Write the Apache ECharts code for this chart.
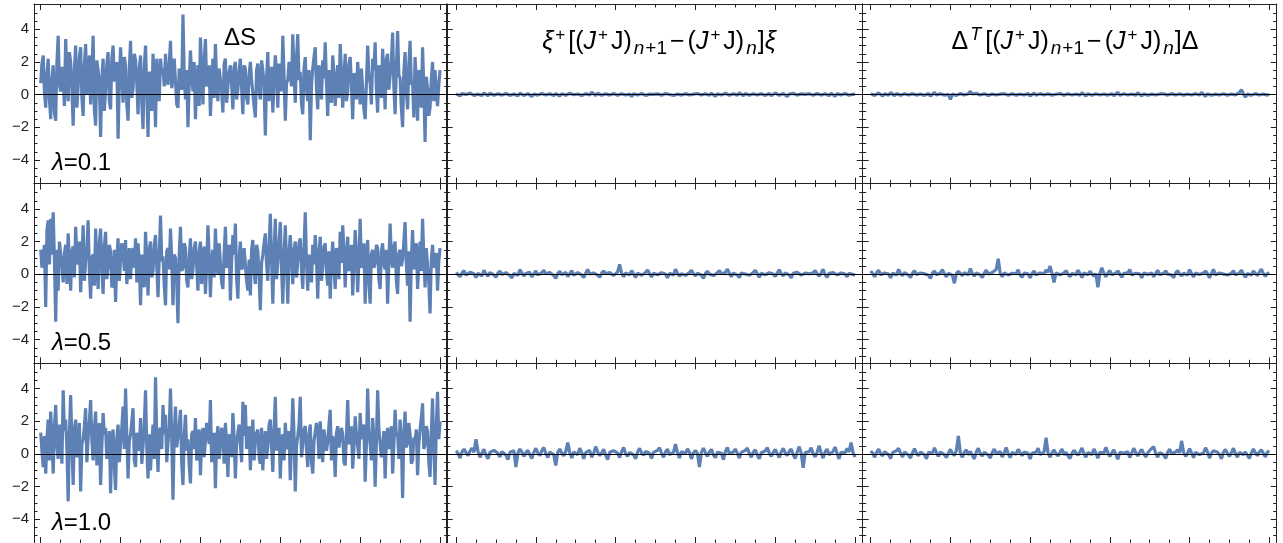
<!DOCTYPE html>
<html>
<head>
<meta charset="utf-8">
<script src="https://cdn.jsdelivr.net/npm/echarts@6/dist/echarts.min.js"></script>
<style>
  html, body { margin: 0; background: #fff; }
  #chart { width: 1283px; height: 543px; }
</style>
</head>
<body>
<div id="chart"></div>
<script>
// tick values (x = iteration, y = change)
const xMajor = [0, 100, 200, 300, 400, 500]
const xMinor = [25, 50, 75, 125, 150, 175, 225, 250, 275, 325, 350, 375, 425, 450, 475]
const yMajor = [-4, -2, 0, 2, 4]
const yMinor = [-5, -4.5, -3.5, -3, -2.5, -1.5, -1, -0.5, 0.5, 1, 1.5, 2.5, 3, 3.5, 4.5, 5]
const lambdaLabels = ['λ=0.1', 'λ=0.5', 'λ=1.0']

// ΔS, one array per λ (samples spread evenly over 0..500)
const dS01 = [
  0.7, 1.9, 2.4, 0.1, -0.8, 1.2, 2.2, -0.3, -1.5, 0.9, 1.8, -1.1, -1.6, 2.0, 3.6, 0.6, 0.2, 1.7, 1.1, -0.7,
  3.4, 1.3, -0.4, 2.6, 2.0, 0.4, -1.9, 1.5, 3.0, -0.8, 0.5, 2.3, 2.9, -0.2, -1.3, 1.8, 3.1, 0.0, 1.0, 2.4,
  -0.6, 1.4, 3.6, -0.9, -1.9, 2.1, 1.5, 0.6, -2.6, 1.0, 2.2, -1.0, 0.3, 1.9, 2.6, -0.4, -0.9, 2.2, 3.0, 0.8,
  1.2, 2.0, -2.7, 0.9, 2.9, 1.1, -0.5, 2.3, 1.8, -0.6, -1.6, 1.5, 3.3, -0.2, 0.4, 2.5, 2.1, 0.7, -1.2, 1.6,
  2.4, -0.5, -2.1, 1.7, 3.0, 0.2, -2.6, 1.4, 1.2, -1.0, 2.5, 0.9, -2.0, 2.2, 0.8, -0.4, 2.2, 1.3, 1.6, 0.5,
  2.5, 1.0, 0.6, 1.9, 3.3, 0.4, 1.0, 2.2, 2.1, -0.6, -0.8, 1.6, 1.7, 0.3, 4.9, 1.2, -0.3, 1.5, -2.0, 0.8,
  2.7, 1.1, 0.2, 2.0, -1.5, 0.9, 1.8, -0.7, 3.5, 1.4, -0.6, 2.1, 3.4, 0.5, 0.9, 1.8, -1.3, 0.6, 2.2, -0.2,
  3.1, 0.8, -0.4, 1.6, 1.7, 0.2, -1.1, 1.9, 2.2, -0.5, 0.5, 1.4, 1.8, 0.6, -0.9, 1.7, 2.0, -0.3, 0.3, 1.5,
  2.2, 0.4, -1.2, 1.8, 1.6, -0.2, -0.6, 1.2, 2.0, 0.9, 0.8, -0.7, -1.4, 1.5, 1.9, 0.3, -0.3, 2.1, 1.5, 0.6,
  -2.5, 1.0, 2.6, -0.4, 0.4, 1.7, -1.1, 0.8, 2.4, 1.2, -0.8, 1.9, 1.3, 0.2, 3.6, 1.1, -1.6, 0.7, 0.9, 2.0,
  2.1, 0.5, 3.7, 1.3, -0.5, 2.2, 3.7, 0.9, 1.4, -0.6, -1.2, 1.6, 2.3, 0.3, -0.4, 1.5, -2.8, 0.6, 1.6, 2.3,
  2.9, 0.4, -0.9, 1.8, 1.2, -0.3, 2.1, 1.0, 3.2, 0.7, -1.3, 1.5, 0.6, -0.5, 2.4, 1.2, -0.7, 0.9, 1.8, -0.2,
  3.1, 1.4, -0.8, 1.0, 2.5, -0.4, 0.2, 1.9, 2.3, 0.6, -1.5, 1.3, 1.1, -0.3, 2.0, 0.8, -0.6, 1.6, 0.4, -0.9,
  -1.5, 0.7, 3.0, 1.2, 0.7, -0.6, 2.2, 1.5, 3.2, 0.4, -1.1, 1.8, 1.9, -0.2, 2.8, 1.0, -0.9, 2.2, 2.5, 0.3,
  0.3, 2.0, 3.8, 0.5, -1.2, 1.7, 3.9, 1.2, 1.0, -0.8, -2.0, 1.4, 2.6, 0.2, -0.9, 1.8, 3.3, 0.6, 0.8, -1.4,
  2.3, 0.7, -1.6, 1.5, 1.2, -0.8, 2.9, 0.4, -2.9, 1.1, 0.4, -1.3, -0.8, 0.9, 2.0, -0.4, 1.5, 0.3, -0.7, 0.6,
  1.5
]
const dS05 = [
  1.5, 0.4, 0.3, 1.8, -2.0, 2.7, 3.3, 0.6, 3.4, 1.2, 3.8, 0.9, -2.9, 1.5, -1.0, 2.0, 1.9, 0.5, -0.5, 1.3,
  1.8, -0.6, 2.5, 0.8, -1.0, 1.4, 1.7, -0.2, 2.9, 1.1, 0.6, 2.0, -1.1, 0.9, 3.0, -0.4, 0.8, 1.6, 3.3, 0.2,
  -1.5, 1.0, 1.2, -0.7, 2.8, 0.6, -0.9, 1.9, 2.8, 0.3, -1.2, 1.7, 2.6, -0.3, 0.5, 1.8, 1.4, -0.8, -0.6, 1.5,
  -1.7, 0.8, 2.2, -0.4, 0.9, 1.9, 1.5, 0.2, 2.1, -0.6, 0.4, 1.6, -0.3, 1.2, 1.6, 0.4, 2.2, -0.5, 1.9, 0.7,
  -1.9, 1.2, 0.7, -0.8, 2.6, 1.0, -1.3, 1.5, 2.0, -0.2, 0.2, 1.8, 2.4, 0.5, -1.4, 1.1, 3.6, 0.8, 1.1, -0.7,
  -1.9, 1.4, 1.6, 0.3, 2.8, 0.9, -1.9, 1.2, 1.0, -0.5, -3.0, 1.3, 2.9, 0.2, 0.4, 1.9, 1.6, -0.4, -0.8, 1.0,
  2.2, -0.3, 0.3, 1.6, 2.0, 0.5, -1.0, 1.4, 2.0, -0.6, 0.8, 1.7, -1.2, 0.6, 3.0, 1.1, -1.4, 0.9, 1.5, -0.2,
  2.8, 0.7, 0.0, 1.9, 1.8, -0.5, -0.9, 1.3, 2.9, 0.4, 0.6, 1.8, -1.6, 0.8, 2.4, 1.2, 3.1, -0.3, -1.5, 1.0,
  2.0, 0.3, 0.5, 1.6, 1.7, -0.4, -1.0, 0.9, -1.3, 1.5, 2.1, 0.2, -0.6, 1.8, 1.4, -0.2, -2.2, 0.7, 1.2, 1.9,
  2.5, 0.6, -0.4, 1.7, 3.7, 0.9, -1.8, 1.3, 3.4, -0.3, 0.7, 2.0, 3.2, 0.4, -1.8, 1.1, 3.0, 0.5, -1.8, 1.4,
  2.4, 0.8, -0.6, 1.5, 2.0, -0.2, 0.8, 1.9, 2.2, 0.3, -0.9, 1.6, 3.8, 0.7, -1.0, 1.2, 1.3, -0.5, 1.8, 0.6,
  2.4, 0.9, -1.5, 1.3, 2.3, -0.4, 0.5, 1.7, 1.9, 0.2, -0.7, 1.4, -1.5, 0.8, 2.0, 0.4, -0.9, 1.6, 1.2, -0.3,
  2.6, 0.7, 3.0, 1.5, -0.8, 1.1, 2.3, 0.2, 1.0, 1.8, -1.3, 0.6, 2.7, 1.3, -1.1, 0.8, 3.4, 0.4, 0.6, 1.9,
  -1.8, 0.9, 2.1, -0.5, -1.8, 1.2, 1.5, 0.4, 0.7, 1.8, 1.6, -0.3, -0.9, 1.4, 1.9, 0.6, 0.3, 1.5, -1.8, 0.8,
  3.1, 1.0, 0.4, 1.7, 2.0, -0.4, -1.2, 1.3, 1.5, 0.5, 0.9, 2.0, 3.2, 0.6, -0.7, 1.4, -2.9, 0.8, 2.7, 0.3,
  1.3, 1.9, -0.9, 0.7, 2.0, 0.2, 3.4, 1.1, -0.8, 1.6, 1.5, -0.5, -2.4, 0.9, 1.8, 0.4, 0.6, 1.3, -1.0, 0.8,
  1.6
]
const dS10 = [
  1.3, 0.2, -0.8, 1.1, -1.2, 0.9, 2.1, -0.4, 2.6, 1.0, -1.2, 1.6, 3.0, 0.5, -0.3, 1.8, 1.1, -0.6, 3.9, 1.4,
  2.1, 0.3, -2.9, 1.2, 3.6, 0.7, -1.9, 1.5, 2.1, -0.2, 0.4, 1.9, -2.3, 0.6, 0.9, 1.7, 2.8, -0.5, 1.0, 2.0,
  3.3, 0.8, -0.4, 1.5, 2.6, -0.7, 0.8, 1.9, -1.9, 0.5, 2.5, 1.2, 1.6, -0.3, 0.2, 1.4, -2.4, 0.9, 1.5, -0.8,
  -2.2, 1.0, 1.8, -0.5, 0.6, 1.6, 2.9, 0.3, 4.0, 1.1, -1.5, 0.8, 1.2, 2.0, 2.8, -0.4, -0.8, 1.3, 1.4, 0.2,
  2.2, -0.6, 0.5, 1.8, 3.9, 0.4, -1.5, 1.2, -1.0, 0.6, 1.8, -0.3, 4.7, 1.0, -1.1, 1.4, 1.6, 0.3, 3.0, 1.2,
  2.4, -0.5, 0.7, 1.6, 4.0, 0.9, -2.8, 1.3, 2.9, 0.4, 0.3, 1.7, 2.7, -0.6, -1.9, 1.1, 2.4, 0.2, 0.9, -0.7,
  -1.8, 1.2, 1.4, 0.3, 2.2, -0.4, 0.4, 1.5, -1.3, 0.8, 1.6, -0.2, 0.8, 1.9, 2.0, 0.6, 3.3, -0.5, 0.2, 1.3,
  -2.1, 0.9, 1.7, -0.3, 0.5, 1.6, 1.2, -0.6, 1.9, 0.7, -1.4, 1.2, 0.9, -0.2, 2.5, 1.0, -1.5, 0.6, 1.3, 1.8,
  0.6, -0.5, 3.2, 1.1, 3.0, 0.3, 0.4, 1.7, -1.0, 0.9, 2.1, -0.4, 0.8, 1.3, 1.5, -0.2, -0.6, 1.6, -1.0, 0.7,
  1.4, -0.3, 0.5, 1.8, 2.1, 0.4, -1.1, 1.5, 3.5, 0.2, 0.9, 1.6, -1.5, 0.8, 1.2, -0.4, 1.9, 0.6, 0.3, 1.4,
  -1.6, 0.9, 3.4, 1.2, -2.3, 0.5, 1.1, 1.8, 3.5, -0.2, 0.6, 1.5, 1.7, 0.3, -0.8, 1.2, 1.8, -0.5, -1.2, 0.8,
  0.9, 1.9, 1.4, -0.3, 2.0, 0.6, -0.5, 1.5, 1.6, 0.2, 0.7, 1.8, 2.7, -0.4, 1.1, 0.5, -1.4, 1.3, 1.7, 0.4,
  0.4, 1.6, 1.2, -0.5, -0.7, 1.1, 3.3, 0.6, 0.8, 1.7, -0.9, 0.4, 2.3, 1.2, 0.5, -0.3, 2.5, 0.9, 1.0, 1.8,
  -1.7, 0.6, 4.0, 1.3, 0.6, -0.4, 2.2, 1.0, -2.0, 0.7, 3.9, 1.5, 1.6, -0.2, 0.4, 1.4, -1.5, 0.8, 1.6, 0.3,
  0.9, 1.7, -1.2, 0.5, 2.7, 1.1, 1.3, -0.3, 2.1, 0.8, -2.7, 1.2, 2.6, 0.4, 0.7, 1.9, 1.2, -0.6, -0.4, 1.0,
  0.8, 1.5, -1.3, 0.6, 1.5, 2.2, 3.1, 0.3, 0.6, 1.7, 1.4, -0.5, -1.4, 1.2, 3.4, 0.5, -1.9, 1.6, 3.8, 0.9,
  2.0
]

// ξ+[(J+J)n+1 − (J+J)n]ξ
const xi01 = [
  0.05, -0.02, -0.08, 0.06, 0.12, 0.01, -0.03, 0.09, 0.07, -0.05, -0.12, 0.03, 0.04, -0.06, 0.1, 0.02, -0.06, 0.08, 0.02, -0.04,
  -0.1, 0.05, 0.08, -0.03, -0.02, 0.07, 0.11, -0.05, -0.07, 0.04, 0.03, -0.08, 0.09, 0.02, -0.05, 0.06, 0.06, -0.02, -0.11, 0.04,
  0.1, -0.03, -0.04, 0.07, 0.13, -0.02, -0.08, 0.05, 0.02, -0.06, 0.07, 0.03, -0.09, 0.06, 0.05, -0.04, -0.03, 0.08, 0.12, -0.01,
  -0.06, 0.04, 0.08, -0.05, -0.1, 0.06, 0.04, -0.02, 0.15, 0.03, -0.05, 0.08, 0.09, -0.04, -0.14, 0.05, 0.06, -0.03, -0.02, 0.07,
  0.11, -0.04, -0.07, 0.05, 0.03, -0.02, 0.08, 0.04, -0.12, 0.06, 0.05, -0.03, -0.04, 0.07, 0.1, -0.05, -0.08, 0.03, 0.14, 0.02,
  -0.03, 0.05, 0.06, -0.04, -0.09, 0.07, 0.12, 0.01, 0.02, -0.05, -0.06, 0.04, 0.08, -0.03, -0.11, 0.06, 0.04, -0.02, 0.1, 0.03,
  -0.05, 0.07, 0.15, -0.02, -0.07, 0.05, 0.03, -0.04, 0.09, 0.02, -0.1, 0.06, 0.06, -0.03, -0.02, 0.08, 0.12, -0.04, -0.08, 0.05,
  0.04, -0.03, 0.11, 0.02, -0.06, 0.07, 0.08, -0.04, -0.03, 0.05, 0.13, -0.02, -0.09, 0.06, 0.05, -0.05, 0.02, 0.07, -0.07, 0.03,
  0.1, -0.02, -0.04, 0.06, 0.07, -0.05, -0.12, 0.04, 0.03, 0.08, 0.09, -0.03, -0.05, 0.05, 0.14, 0.01, -0.08, 0.06, 0.06, -0.04,
  -0.02, 0.07, 0.1, -0.03, -0.07, 0.05, 0.04, -0.06, 0.08, 0.02, -0.1, 0.06, 0.05, -0.02, -0.03, 0.07, 0.07, -0.04, -0.06, 0.02,
  0.03
]
const xi05 = [
  0.1, 0.02, -0.15, 0.08, 0.22, -0.05, -0.08, 0.12, 0.18, 0.03, -0.2, 0.06, 0.06, -0.1, 0.25, 0.04, -0.12, 0.1, 0.14, -0.04,
  -0.18, 0.07, 0.2, -0.02, -0.05, 0.1, 0.16, -0.08, -0.22, 0.05, 0.1, -0.06, 0.28, 0.08, -0.1, 0.04, 0.08, 0.12, -0.16, 0.02,
  0.2, -0.04, -0.12, 0.09, 0.24, 0.03, -0.06, 0.1, 0.12, -0.08, -0.25, 0.05, 0.18, -0.03, 0.05, 0.12, -0.14, 0.04, 0.22, -0.06,
  -0.08, 0.1, 0.15, -0.04, -0.2, 0.06, 0.3, 0.02, -0.1, 0.08, 0.12, -0.05, -0.18, 0.07, 0.2, 0.03, -0.04, 0.1, 0.16, -0.07,
  -0.12, 0.14, 0.6, 0.05, -0.15, 0.08, 0.1, -0.04, 0.22, 0.02, -0.2, 0.07, 0.08, -0.06, -0.1, 0.11, 0.26, 0.04, -0.16, 0.06,
  0.12, -0.03, -0.06, 0.09, 0.2, 0.02, -0.22, 0.06, 0.15, -0.05, 0.3, 0.08, -0.12, 0.04, 0.08, -0.07, -0.18, 0.1, 0.24, 0.03,
  -0.1, 0.06, 0.14, -0.04, -0.25, 0.05, 0.18, 0.02, 0.06, -0.08, -0.14, 0.09, 0.22, 0.03, -0.08, 0.1, 0.32, 0.05, -0.15, 0.07,
  0.1, -0.05, -0.2, 0.08, 0.16, 0.02, 0.04, -0.06, -0.12, 0.1, 0.24, 0.04, -0.18, 0.06, 0.12, -0.03, -0.06, 0.09, 0.2, 0.02,
  -0.14, 0.07, 0.28, 0.03, -0.1, 0.08, 0.15, -0.04, -0.22, 0.06, 0.08, 0.12, 0.18, -0.05, -0.16, 0.07, 0.1, 0.02, -0.05, 0.09,
  0.22, 0.04, -0.12, 0.08, 0.3, -0.03, -0.18, 0.06, 0.06, 0.1, 0.16, -0.04, -0.1, 0.08, 0.2, 0.02, -0.15, 0.06, 0.12, -0.02,
  -0.05
]
const xi10 = [
  0.2, 0.05, -0.25, 0.12, 0.3, 0.08, -0.1, 0.18, 0.35, 0.1, 0.9, 0.15, -0.2, 0.06, 0.28, -0.05, -0.3, 0.1, 0.15, 0.22,
  0.32, 0.04, -0.18, 0.14, 0.25, -0.06, -0.35, 0.1, 0.1, 0.2, -0.8, 0.05, 0.3, 0.12, -0.15, 0.08, 0.22, -0.04, -0.28, 0.1,
  0.35, 0.06, -0.1, 0.2, 0.4, 0.02, -0.22, 0.12, 0.18, -0.05, -0.7, 0.1, 0.3, 0.06, -0.12, 0.15, 0.7, 0.08, -0.25, 0.12,
  0.2, -0.04, 0.35, 0.1, -0.3, 0.08, 0.15, 0.22, -0.2, 0.05, 0.45, 0.12, -0.1, 0.06, 0.28, -0.06, -0.35, 0.1, 0.12, 0.2,
  0.3, 0.05, -0.22, 0.14, 0.4, 0.02, -0.15, 0.1, 0.2, -0.05, -0.3, 0.12, 0.35, 0.06, -0.08, 0.15, 0.25, 0.04, -0.28, 0.1,
  0.15, 0.22, 0.38, 0.05, -0.2, 0.12, 0.3, -0.04, -0.12, 0.1, 0.6, 0.08, -0.25, 0.14, 0.18, 0.02, 0.32, 0.1, -0.3, 0.06,
  0.22, 0.04, -0.8, 0.1, 0.35, 0.08, -0.15, 0.12, 0.28, -0.05, -0.22, 0.1, 0.2, 0.06, -0.35, 0.14, 0.4, 0.02, -0.1, 0.12,
  0.3, 0.05, -0.25, 0.1, 0.18, 0.22, 0.36, 0.04, -0.2, 0.12, 0.25, -0.06, -0.3, 0.08, 0.12, 0.18, 0.4, 0.05, -0.15, 0.1,
  0.28, 0.02, -0.22, 0.12, 0.35, 0.06, -0.1, 0.15, 0.3, -0.04, -0.28, 0.1, 0.45, 0.05, -0.85, 0.08, 0.2, 0.14, 0.38, 0.02,
  -0.18, 0.1, 0.5, 0.06, -0.25, 0.12, 0.3, -0.05, -0.12, 0.15, 0.42, 0.04, -0.3, 0.1, 0.22, 0.06, 0.35, 0.12, 0.7, 0.08,
  -0.2
]

// ΔT[(J+J)n+1 − (J+J)n]Δ
const de01 = [
  0.06, 0.01, -0.05, 0.04, 0.1, -0.02, -0.08, 0.05, 0.04, -0.03, 0.12, 0.02, -0.06, 0.07, 0.03, -0.04, -0.1, 0.05, 0.08, -0.02,
  -0.04, 0.06, 0.11, -0.03, -0.07, 0.04, 0.05, -0.05, 0.02, 0.07, -0.09, 0.03, 0.13, -0.02, -0.05, 0.06, 0.07, -0.04, -0.12, 0.02,
  -0.3, 0.03, 0.06, -0.05, -0.04, 0.07, 0.1, -0.02, -0.08, 0.05, 0.2, 0.04, -0.06, 0.08, 0.09, -0.03, -0.03, 0.06, 0.12, -0.05,
  -0.1, 0.04, 0.05, -0.02, 0.08, 0.03, -0.07, 0.06, 0.11, -0.04, -0.04, 0.05, 0.06, -0.03, -0.12, 0.04, 0.09, -0.02, 0.03, 0.07,
  -0.08, 0.03, 0.1, -0.04, -0.05, 0.06, 0.13, -0.02, -0.09, 0.05, 0.04, -0.03, 0.08, 0.02, -0.06, 0.07, 0.11, -0.04, -0.03, 0.05,
  0.07, -0.02, -0.1, 0.04, 0.05, -0.03, 0.12, 0.02, -0.08, 0.06, 0.06, -0.04, -0.04, 0.05, 0.1, -0.02, -0.11, 0.04, 0.08, -0.03,
  0.03, 0.06, -0.07, 0.02, 0.14, -0.04, -0.05, 0.05, 0.09, -0.02, -0.1, 0.04, 0.06, -0.03, 0.11, 0.03, -0.08, 0.05, 0.04, -0.04,
  -0.12, 0.03, 0.07, -0.02, 0.1, 0.04, -0.06, 0.05, 0.05, -0.03, -0.09, 0.06, 0.12, -0.02, -0.04, 0.05, 0.08, -0.03, -0.07, 0.04,
  0.11, -0.02, -0.05, 0.06, 0.06, -0.03, 0.13, 0.02, -0.1, 0.05, 0.04, -0.04, -0.08, 0.03, 0.09, -0.02, -0.06, 0.05, 0.1, -0.03,
  -0.12, 0.04, 0.05, -0.02, 0.08, 0.12, 0.3, 0.05, -0.15, 0.03, 0.07, -0.04, -0.05, 0.06, 0.1, -0.02, -0.08, 0.04, 0.06, -0.03,
  0.03
]
const de05 = [
  0.2, 0.04, -0.15, 0.1, 0.25, -0.03, -0.1, 0.08, 0.18, 0.02, -0.22, 0.06, 0.12, -0.04, 0.3, 0.05, -0.08, 0.1, 0.15, -0.05,
  -0.2, 0.06, 0.22, -0.02, -0.12, 0.08, 0.18, 0.03, 0.05, -0.06, -0.25, 0.07, 0.2, -0.03, -0.1, 0.09, 0.28, 0.02, -0.15, 0.06,
  0.12, -0.05, -0.55, 0.04, 0.18, 0.08, -0.08, 0.1, 0.22, -0.04, 0.35, 0.06, -0.12, 0.08, 0.15, -0.03, -0.2, 0.07, 0.25, 0.02,
  -0.06, 0.1, 0.18, 0.3, 0.95, 0.05, -0.15, 0.08, 0.2, -0.04, -0.1, 0.06, 0.12, 0.03, 0.28, -0.05, -0.18, 0.07, 0.08, 0.02,
  -0.22, 0.06, 0.2, -0.04, -0.12, 0.08, 0.15, 0.03, 0.26, 0.12, 0.5, 0.05, -0.5, 0.08, 0.18, -0.03, -0.1, 0.07, 0.22, 0.02,
  -0.15, 0.05, 0.12, -0.03, 0.25, 0.06, -0.2, 0.08, 0.08, -0.04, 0.18, 0.03, -0.12, 0.05, -0.8, 0.04, 0.4, 0.06, -0.15, 0.08,
  0.22, -0.03, -0.08, 0.07, 0.2, 0.02, -0.18, 0.06, 0.15, 0.08, 0.28, -0.04, -0.1, 0.06, 0.12, 0.03, -0.22, 0.07, 0.18, -0.02,
  0.05, 0.08, -0.15, 0.04, 0.25, -0.03, -0.12, 0.06, 0.2, 0.02, 0.08, -0.05, -0.2, 0.07, 0.22, 0.03, -0.1, 0.06, 0.15, -0.04,
  0.28, 0.05, -0.16, 0.08, 0.12, -0.02, -0.06, 0.07, 0.2, 0.03, -0.22, 0.06, 0.3, -0.04, -0.12, 0.08, 0.18, 0.02, 0.08, -0.05,
  -0.15, 0.06, 0.22, -0.03, -0.1, 0.07, 0.26, 0.02, -0.18, 0.05, 0.12, -0.04, 0.2, 0.06, -0.08, 0.03, 0.32, 0.05, -0.12, 0.04,
  0.1
]
const de10 = [
  0.18, 0.05, -0.2, 0.1, 0.3, 0.02, -0.12, 0.14, 0.25, -0.04, -0.28, 0.08, 0.15, 0.2, 0.35, 0.04, -0.18, 0.12, 0.1, -0.06,
  -0.25, 0.08, 0.32, 0.03, -0.1, 0.12, 0.22, -0.05, -0.3, 0.1, 0.2, 0.04, 0.38, 0.08, -0.15, 0.12, 0.12, -0.04, -0.22, 0.06,
  0.28, 0.05, -0.1, 0.2, 1.1, 0.06, -0.2, 0.1, 0.25, -0.04, 0.15, 0.08, -0.3, 0.12, 0.35, 0.02, -0.12, 0.1, 0.2, -0.05,
  -0.25, 0.08, 0.3, 0.04, 0.08, 0.14, -0.18, 0.06, 0.4, 0.02, -0.22, 0.1, 0.15, -0.03, 0.28, 0.08, -0.1, 0.12, 0.22, 0.04,
  -0.3, 0.06, 0.18, 0.1, 0.35, -0.04, -0.15, 0.12, 1.0, 0.05, -0.2, 0.08, 0.25, 0.02, -0.12, 0.1, 0.3, -0.05, 0.1, 0.14,
  -0.28, 0.04, 0.22, 0.08, -0.08, 0.12, 0.36, 0.02, -0.2, 0.1, 0.15, -0.04, 0.3, 0.06, -0.25, 0.1, 0.12, 0.05, 0.4, 0.08,
  -0.15, 0.06, 0.25, -0.03, -0.32, 0.1, 0.2, 0.04, 0.1, 0.14, -0.22, 0.05, 0.35, 0.08, -0.12, 0.1, 0.28, 0.02, -0.18, 0.06,
  0.22, 0.1, 0.45, 0.04, -0.2, 0.08, 0.15, -0.05, -0.28, 0.1, 0.3, 0.02, -0.1, 0.12, 0.25, 0.06, 0.8, 0.1, -0.15, 0.04,
  0.32, 0.08, -0.22, 0.1, 0.18, -0.04, -0.12, 0.06, 0.38, 0.12, -0.25, 0.05, 0.2, 0.08, 0.1, -0.03, -0.3, 0.1, 0.28, 0.04,
  -0.15, 0.08, 0.35, 0.02, -0.2, 0.1, 0.22, -0.04, 0.12, 0.14, -0.28, 0.06, 0.3, 0.08, -0.1, 0.12, 0.25, 0.04, -0.18, 0.1,
  0.2
]

const panels = [
  [dS01, xi01, de01],
  [dS05, xi05, de05],
  [dS10, xi10, de10]
]

// layout of the 3x3 frames (pixels) and axis padding
const cols = [
  { left: 34, width: 413.7, min: -8.4, max: 509.6 },
  { left: 446.7, width: 416, min: -11.7, max: 509.6 },
  { left: 862.7, width: 414, min: -10, max: 509.3 }
]
const rows = [
  { top: 4, height: 179.6 },
  { top: 183.6, height: 179.7 },
  { top: 363.3, height: 179.7 }
]
const yMin = -5.45
const yMax = 5.55

const lineColor = '#5E81B5'
const frameColor = '#222'
const font = '"Liberation Sans", Arial, sans-serif'

const grid = []
const xAxis = []
const yAxis = []
const series = []

const minus = (v) => (v < 0 ? '\u2212' + (-v) : String(v))

function xAx(g, c, pos, ticks, len, line) {
  return {
    type: 'value',
    gridIndex: g,
    position: pos,
    min: cols[c].min,
    max: cols[c].max,
    axisLine: { show: line, onZero: false, lineStyle: { color: frameColor, width: 1 } },
    axisTick: { show: true, inside: true, length: len, customValues: ticks, lineStyle: { color: frameColor, width: 1 } },
    axisLabel: { show: false },
    splitLine: { show: false }
  }
}
function yAx(g, c, pos, ticks, len, line, labels) {
  return {
    type: 'value',
    gridIndex: g,
    position: pos,
    min: yMin,
    max: yMax,
    axisLine: { show: line, onZero: false, lineStyle: { color: frameColor, width: 1 } },
    axisTick: { show: true, inside: true, length: len, customValues: ticks, lineStyle: { color: frameColor, width: 1 } },
    axisLabel: {
      show: labels,
      customValues: yMajor,
      formatter: minus,
      fontSize: 15,
      fontFamily: font,
      color: '#222',
      margin: 5
    },
    splitLine: { show: false }
  }
}

rows.forEach((r, ri) => {
  cols.forEach((c, ci) => {
    const g = grid.length
    grid.push({ left: c.left, top: r.top, width: c.width, height: r.height })
    xAxis.push(xAx(g, ci, 'bottom', xMajor, 6, true))
    xAxis.push(xAx(g, ci, 'top', xMajor, 6, true))
    xAxis.push(xAx(g, ci, 'bottom', xMinor, 3.5, false))
    xAxis.push(xAx(g, ci, 'top', xMinor, 3.5, false))
    yAxis.push(yAx(g, ci, 'left', yMajor, 6, true, ci === 0))
    yAxis.push(yAx(g, ci, 'right', yMajor, 6, true, false))
    yAxis.push(yAx(g, ci, 'left', yMinor, 3.5, false, false))
    yAxis.push(yAx(g, ci, 'right', yMinor, 3.5, false, false))
    const vals = panels[ri][ci]
    series.push({
      type: 'line',
      xAxisIndex: g * 4,
      yAxisIndex: g * 4,
      data: vals.map((v, i) => [i * 500 / (vals.length - 1), v]),
      showSymbol: false,
      lineStyle: { color: lineColor, width: 3.2 },
      itemStyle: { color: lineColor },
      markLine: {
        silent: true,
        symbol: ['none', 'none'],
        label: { show: false },
        lineStyle: { color: '#000', width: 1, type: 'solid' },
        data: [{ yAxis: 0 }]
      }
    })
  })
})

const richStyles = {
  t: { fontSize: 25, fontFamily: font, fill: '#000' },
  tm: { fontSize: 25, fontFamily: font, fill: '#000', padding: [0, 3, 0, 3] },
  i: { fontSize: 25, fontFamily: font, fontStyle: 'italic', fill: '#000', padding: [0, 2, 0, 0] },
  sp: { fontSize: 17, fontFamily: font, fill: '#000', padding: [0, 3, 14, 0] },
  spi: { fontSize: 18, fontFamily: font, fontStyle: 'italic', fill: '#000', padding: [0, 4, 14, 2] },
  sb: { fontSize: 19, fontFamily: font, fill: '#000', padding: [13, 0, 0, 0] },
  sbi: { fontSize: 19, fontFamily: font, fontStyle: 'italic', fill: '#000', padding: [13, 1, 0, 2] }
}

function label(text, x, y, size) {
  return {
    type: 'text',
    x: x,
    y: y,
    silent: true,
    style: {
      text: text,
      rich: richStyles,
      fontSize: size,
      fontFamily: font,
      fill: '#000',
      align: 'center',
      verticalAlign: 'middle',
      textAlign: 'center',
      textVerticalAlign: 'middle'
    }
  }
}

const graphic = [
  label('ΔS', 240, 38, 24),
  label('{i|ξ}{sp|+}{t|[(}{i|J}{sp|+}{t|J)}{sbi|n}{sb|+1}{tm|−}{t|(}{i|J}{sp|+}{t|J)}{sbi|n}{t|]}{i|ξ}', 660, 42, 25),
  label('{t|Δ}{spi|T}{t|[(}{i|J}{sp|+}{t|J)}{sbi|n}{sb|+1}{tm|−}{t|(}{i|J}{sp|+}{t|J)}{sbi|n}{t|]Δ}', 1075, 42, 25)
]
lambdaLabels.forEach((s, i) => {
  graphic.push({
    type: 'text',
    x: 52,
    y: 163 + i * 180,
    silent: true,
    style: {
      text: '{i|λ}{t|' + s.slice(1) + '}',
      rich: {
        i: { fontSize: 24, fontFamily: font, fontStyle: 'italic', fill: '#000' },
        t: { fontSize: 24, fontFamily: font, fill: '#000' }
      },
      fontSize: 24,
      fontFamily: font,
      fill: '#000',
      align: 'left',
      verticalAlign: 'middle',
      textAlign: 'left',
      textVerticalAlign: 'middle'
    }
  })
})

const chart = echarts.init(document.getElementById('chart'))
chart.setOption({
  animation: false,
  backgroundColor: '#fff',
  grid: grid,
  xAxis: xAxis,
  yAxis: yAxis,
  series: series,
  graphic: graphic
})
</script>
</body>
</html>
